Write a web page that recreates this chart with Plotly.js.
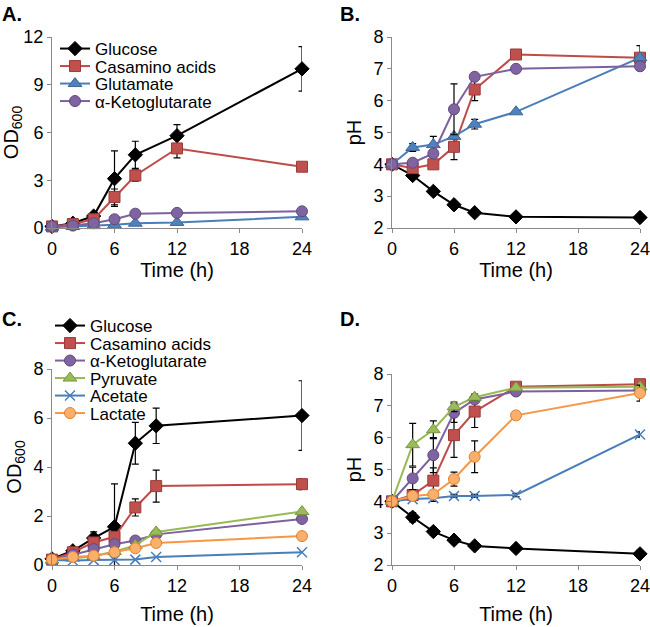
<!DOCTYPE html>
<html>
<head>
<meta charset="utf-8">
<script src="https://cdn.plot.ly/plotly-3.0.1.min.js"></script>
<style>html,body{margin:0;padding:0;background:#fff;} #chart{width:650px;height:627px;}</style>
</head>
<body>
<div id="chart"></div>
<script>
// ---------- data ----------
const timesAB = [0, 2, 4, 6, 8, 12, 24];
const timesC = [0, 2, 4, 6, 8, 10, 24];
const timesD = [0, 2, 4, 6, 8, 12, 24];

const nameGlucose = "Glucose";
const nameCasamino = "Casamino acids";
const nameGlutamate = "Glutamate";
const nameAKG = "\u03b1-Ketoglutarate";
const namePyruvate = "Pyruvate";
const nameAcetate = "Acetate";
const nameLactate = "Lactate";

// Panel A: OD600
const A_glucose = [0.1, 0.3, 0.75, 3.1, 4.6, 5.8, 10.0];
const A_glucose_err = [0, 0, 0.2, 1.75, 0.85, 0.7, 1.4];
const A_casamino = [0.1, 0.25, 0.55, 1.95, 3.3, 5.0, 3.85];
const A_casamino_err = [0, 0, 0, 0.5, 0.35, 0.6, 0.15];
const A_glutamate = [0.05, 0.1, 0.15, 0.2, 0.3, 0.35, 0.7];
const A_glutamate_err = [0, 0, 0, 0.05, 0.05, 0, 0.05];
const A_akg = [0.1, 0.15, 0.3, 0.55, 0.9, 0.95, 1.05];
const A_akg_err = [0, 0, 0, 0.1, 0.15, 0, 0];

// Panel B: pH
const B_glucose = [4.0, 3.65, 3.15, 2.73, 2.48, 2.35, 2.33];
const B_glucose_err = [0, 0.1, 0, 0, 0, 0, 0];
const B_casamino = [4.0, 3.88, 4.0, 4.55, 6.35, 7.45, 7.35];
const B_casamino_err = [0, 0, 0, 0.4, 0.35, 0, 0.38];
const B_glutamate = [4.0, 4.53, 4.62, 4.88, 5.26, 5.65, 7.35];
const B_glutamate_err = [0, 0.12, 0.26, 0.08, 0.15, 0, 0];
const B_akg = [4.0, 4.05, 4.34, 5.73, 6.75, 7.0, 7.08];
const B_akg_err = [0, 0, 0.1, 0.8, 0, 0, 0];

// Panel C: OD600
const C_glucose = [0.25, 0.58, 1.1, 1.56, 4.97, 5.68, 6.1];
const C_glucose_err = [0, 0.05, 0.25, 1.75, 0.85, 0.72, 1.42];
const C_casamino = [0.22, 0.52, 0.92, 1.15, 2.35, 3.22, 3.3];
const C_casamino_err = [0, 0, 0, 0, 0.35, 0.65, 0.22];
const C_akg = [0.2, 0.42, 0.65, 0.85, 1.0, 1.25, 1.88];
const C_pyruvate = [0.2, 0.28, 0.35, 0.55, 0.8, 1.35, 2.18];
const C_acetate = [0.2, 0.18, 0.2, 0.2, 0.22, 0.33, 0.52];
const C_lactate = [0.22, 0.33, 0.38, 0.52, 0.68, 0.9, 1.18];

// Panel D: pH
const D_glucose = [4.0, 3.5, 3.05, 2.78, 2.6, 2.52, 2.35];
const D_glucose_err = [0, 0.15, 0.12, 0, 0, 0, 0.12];
const D_casamino = [4.0, 4.2, 4.65, 6.08, 6.82, 7.6, 7.68];
const D_casamino_err = [0, 0, 0.4, 0.7, 0.5, 0, 0];
const D_akg = [4.0, 4.72, 5.45, 6.78, 7.2, 7.45, 7.48];
const D_akg_err = [0, 0.35, 0.55, 0.3, 0, 0, 0];
const D_pyruvate = [4.0, 5.78, 6.25, 6.97, 7.27, 7.57, 7.6];
const D_pyruvate_err = [0, 0.67, 0.28, 0.15, 0.1, 0, 0];
const D_acetate = [4.0, 4.07, 4.1, 4.17, 4.17, 4.2, 6.1];
const D_acetate_err = [0, 0, 0.1, 0.05, 0.05, 0.05, 0.08];
const D_lactate = [4.0, 4.17, 4.22, 4.7, 5.4, 6.7, 7.4];
const D_lactate_err = [0, 0, 0.1, 0.22, 0.5, 0.12, 0.25];

const xTicks = [0, 6, 12, 18, 24];

// ---------- styles ----------
const S = {
  glucose:  {color: '#000000', fill: '#000000', edge: '#000000', symbol: 'diamond', size: 11},
  casamino: {color: '#BE4B48', fill: '#C0504D', edge: '#9B3B39', symbol: 'square', size: 11},
  glutamate:{color: '#4A7EBB', fill: '#4F81BD', edge: '#3C6696', symbol: 'triangle-up', size: 12},
  akg:      {color: '#7D60A0', fill: '#8064A2', edge: '#5F4A7B', symbol: 'circle', size: 11},
  pyruvate: {color: '#98B954', fill: '#9BBB59', edge: '#7A9544', symbol: 'triangle-up', size: 12},
  acetate:  {color: '#4A7EBB', fill: '#4F81BD', edge: '#4F81BD', symbol: 'x-thin', size: 10},
  lactate:  {color: '#F79646', fill: '#FAB06A', edge: '#E08030', symbol: 'circle', size: 11}
};

function tr(x, y, err, st, name, xa, ya, legend, showlegend) {
  const t = {
    type: 'scatter', mode: 'lines+markers', x: x, y: y, name: name,
    xaxis: xa, yaxis: ya, cliponaxis: false,
    line: {color: st.color, width: 2},
    marker: {symbol: st.symbol, size: st.size, color: st.fill,
             line: {color: st.symbol === 'x-thin' ? st.color : st.edge, width: st.symbol === 'x-thin' ? 1.5 : 1}},
    showlegend: showlegend, legend: legend
  };
  if (err) t.error_y = {type: 'data', array: err, visible: true, color: '#000', thickness: 1.2, width: 3.5};
  return t;
}

const data = [
  tr(timesAB, A_glucose, A_glucose_err, S.glucose, nameGlucose, 'x', 'y', 'legend', true),
  tr(timesAB, A_casamino, A_casamino_err, S.casamino, nameCasamino, 'x', 'y', 'legend', true),
  tr(timesAB, A_glutamate, A_glutamate_err, S.glutamate, nameGlutamate, 'x', 'y', 'legend', true),
  tr(timesAB, A_akg, A_akg_err, S.akg, nameAKG, 'x', 'y', 'legend', true),

  tr(timesAB, B_glucose, B_glucose_err, S.glucose, nameGlucose, 'x2', 'y2', 'legend', false),
  tr(timesAB, B_casamino, B_casamino_err, S.casamino, nameCasamino, 'x2', 'y2', 'legend', false),
  tr(timesAB, B_glutamate, B_glutamate_err, S.glutamate, nameGlutamate, 'x2', 'y2', 'legend', false),
  tr(timesAB, B_akg, B_akg_err, S.akg, nameAKG, 'x2', 'y2', 'legend', false),

  tr(timesC, C_glucose, C_glucose_err, S.glucose, nameGlucose, 'x3', 'y3', 'legend2', true),
  tr(timesC, C_casamino, C_casamino_err, S.casamino, nameCasamino, 'x3', 'y3', 'legend2', true),
  tr(timesC, C_akg, null, S.akg, nameAKG, 'x3', 'y3', 'legend2', true),
  tr(timesC, C_pyruvate, null, S.pyruvate, namePyruvate, 'x3', 'y3', 'legend2', true),
  tr(timesC, C_acetate, null, S.acetate, nameAcetate, 'x3', 'y3', 'legend2', true),
  tr(timesC, C_lactate, null, S.lactate, nameLactate, 'x3', 'y3', 'legend2', true),

  tr(timesD, D_glucose, D_glucose_err, S.glucose, nameGlucose, 'x4', 'y4', 'legend2', false),
  tr(timesD, D_casamino, D_casamino_err, S.casamino, nameCasamino, 'x4', 'y4', 'legend2', false),
  tr(timesD, D_akg, D_akg_err, S.akg, nameAKG, 'x4', 'y4', 'legend2', false),
  tr(timesD, D_pyruvate, D_pyruvate_err, S.pyruvate, namePyruvate, 'x4', 'y4', 'legend2', false),
  tr(timesD, D_acetate, D_acetate_err, S.acetate, nameAcetate, 'x4', 'y4', 'legend2', false),
  tr(timesD, D_lactate, D_lactate_err, S.lactate, nameLactate, 'x4', 'y4', 'legend2', false)
];

const W = 650, H = 627;
const fx = (a, b) => [a / W, b / W];
const fy = (top, bottom) => [1 - bottom / H, 1 - top / H];

const FONT = 'Liberation Sans, Arial, sans-serif';
const axisCommon = {
  showline: true, linecolor: '#8A8A8A', linewidth: 1,
  ticks: 'outside', ticklen: 4, tickcolor: '#8A8A8A', tickwidth: 1,
  showgrid: false, zeroline: false, ticklabeloverflow: 'allow',
  tickfont: {family: FONT, size: 18, color: '#000'},
  fixedrange: true
};
function xax(dom, anchor, standoff) {
  return Object.assign({}, axisCommon, {
    domain: dom, anchor: anchor, range: [0, 24], tickmode: 'array', tickvals: xTicks,
    title: {text: 'Time (h)', font: {family: FONT, size: 20, color: '#000'}, standoff: standoff}
  });
}
function yax(dom, anchor, range, dtick, title) {
  return Object.assign({}, axisCommon, {
    domain: dom, anchor: anchor, range: range, tick0: 0, dtick: dtick,
    title: {text: title, font: {family: FONT, size: 20, color: '#000'}, standoff: 6}
  });
}

const layout = {
  width: W, height: H,
  margin: {l: 0, r: 0, t: 0, b: 0},
  paper_bgcolor: '#fff', plot_bgcolor: 'rgba(0,0,0,0)',
  font: {family: FONT, color: '#000'},
  xaxis: xax(fx(52, 302), 'y', 2),
  yaxis: yax(fy(37, 228), 'x', [0, 12], 3, 'OD<sub>600</sub>'),
  xaxis2: xax(fx(392, 640), 'y2', 2),
  yaxis2: yax(fy(37, 228), 'x2', [2, 8], 1, 'pH'),
  xaxis3: xax(fx(52, 302), 'y3', 12),
  yaxis3: yax(fy(369, 565), 'x3', [0, 8], 2, 'OD<sub>600</sub>'),
  xaxis4: xax(fx(392, 640), 'y4', 12),
  yaxis4: yax(fy(374, 565), 'x4', [2, 8], 1, 'pH'),
  legend: {x: 55 / W, y: 1 - 31 / H, xanchor: 'left', yanchor: 'top',
           bgcolor: 'rgba(0,0,0,0)', borderwidth: 0, font: {family: FONT, size: 17, color: '#000'},
           tracegroupgap: 0, itemclick: false, itemdoubleclick: false},
  legend2: {x: 50 / W, y: 1 - 308 / H, xanchor: 'left', yanchor: 'top',
           bgcolor: 'rgba(0,0,0,0)', borderwidth: 0, font: {family: FONT, size: 17, color: '#000'},
           tracegroupgap: 0, itemclick: false, itemdoubleclick: false},
  annotations: [
    {text: '<b>A.</b>', xref: 'paper', yref: 'paper', x: 0 / W, y: 1 - 1 / H, xanchor: 'left', yanchor: 'top', showarrow: false, font: {family: FONT, size: 20, color: '#000'}},
    {text: '<b>B.</b>', xref: 'paper', yref: 'paper', x: 338 / W, y: 1 - 1 / H, xanchor: 'left', yanchor: 'top', showarrow: false, font: {family: FONT, size: 20, color: '#000'}},
    {text: '<b>C.</b>', xref: 'paper', yref: 'paper', x: 0 / W, y: 1 - 306 / H, xanchor: 'left', yanchor: 'top', showarrow: false, font: {family: FONT, size: 20, color: '#000'}},
    {text: '<b>D.</b>', xref: 'paper', yref: 'paper', x: 338 / W, y: 1 - 306 / H, xanchor: 'left', yanchor: 'top', showarrow: false, font: {family: FONT, size: 20, color: '#000'}}
  ]
};

Plotly.newPlot('chart', data, layout, {staticPlot: true, displayModeBar: false}).then(function (gd) {
  // tighten legend row spacing to match the original
  const rowGap = 17.5;
  gd.querySelectorAll('.infolayer > g').forEach(function (lg) {
    const cls = lg.getAttribute('class') || '';
    if (cls.indexOf('legend') !== 0) return;
    const items = lg.querySelectorAll('g.traces');
    let y0 = null;
    items.forEach(function (it, i) {
      const m = /translate\(([-\d.e]+)[ ,]+([-\d.e]+)\)/.exec(it.getAttribute('transform') || '');
      if (!m) return;
      const x = parseFloat(m[1]);
      if (y0 === null) y0 = parseFloat(m[2]);
      it.setAttribute('transform', 'translate(' + x + ',' + (y0 + i * rowGap) + ')');
    });
  });
});
</script>
</body>
</html>
